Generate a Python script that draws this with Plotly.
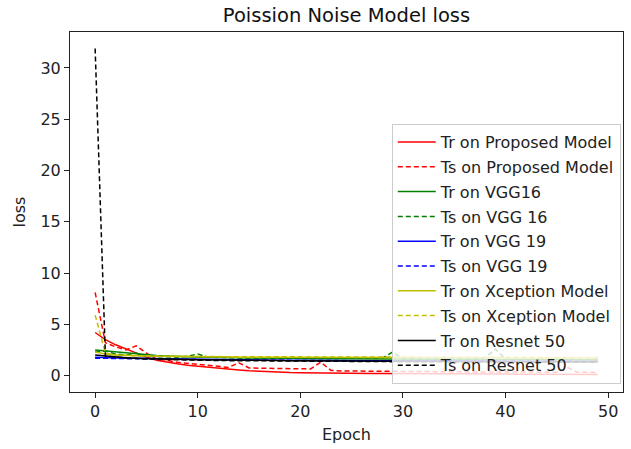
import plotly.graph_objects as go

epochs = list(range(50))

tr_proposed = [4.2, 3.5, 3.0, 2.6, 2.2, 1.8, 1.5, 1.3, 1.15, 1.0,
               0.9, 0.8, 0.7, 0.62, 0.55, 0.48, 0.42, 0.37, 0.33, 0.3,
               0.28, 0.26, 0.25, 0.24, 0.23, 0.22, 0.21, 0.2, 0.2, 0.19,
               0.19, 0.18, 0.18, 0.17, 0.17, 0.16, 0.16, 0.16, 0.15, 0.15,
               0.14, 0.14, 0.14, 0.13, 0.13, 0.13, 0.12, 0.12, 0.12, 0.11]
ts_proposed = [8.1, 3.2, 2.8, 2.5, 2.9, 2.2, 1.6, 1.5, 1.3, 1.2,
               1.1, 0.95, 0.85, 0.8, 1.25, 0.75, 0.72, 0.7, 0.7, 0.68,
               0.66, 0.65, 1.3, 0.5, 0.45, 0.44, 0.42, 0.42, 0.4, 0.4,
               0.4, 0.38, 0.38, 0.37, 0.37, 0.36, 0.36, 0.35, 0.35, 0.36,
               0.34, 0.34, 0.33, 0.33, 0.33, 0.32, 0.8, 0.32, 0.31, 0.31]
tr_vgg16 = [2.5, 2.4, 2.3, 2.2, 2.1, 2.0, 1.95, 1.9, 1.85, 1.82,
            1.8, 1.78, 1.76, 1.75, 1.74, 1.72, 1.71, 1.7, 1.69, 1.68,
            1.67, 1.66, 1.66, 1.65, 1.64, 1.64, 1.63, 1.62, 1.62, 1.61,
            1.61, 1.6, 1.6, 1.59, 1.59, 1.58, 1.58, 1.57, 1.57, 1.56,
            1.56, 1.56, 1.55, 1.55, 1.55, 1.54, 1.54, 1.54, 1.53, 1.53]
ts_vgg16 = [2.3, 2.4, 2.1, 2.0, 2.2, 1.9, 1.85, 1.8, 1.8, 1.9,
            2.1, 1.8, 1.75, 1.74, 1.72, 1.72, 1.7, 1.7, 1.69, 1.68,
            1.68, 1.67, 1.66, 1.66, 1.65, 1.65, 1.64, 1.64, 1.7, 2.3,
            1.65, 1.63, 1.63, 1.62, 1.62, 1.62, 1.61, 1.61, 1.7, 2.6,
            1.62, 1.6, 1.6, 1.6, 1.59, 1.59, 1.59, 1.58, 1.58, 1.58]
tr_vgg19 = [1.8, 1.75, 1.72, 1.7, 1.68, 1.66, 1.64, 1.62, 1.6, 1.58,
            1.57, 1.56, 1.55, 1.54, 1.53, 1.52, 1.51, 1.5, 1.5, 1.49,
            1.48, 1.48, 1.47, 1.47, 1.46, 1.46, 1.45, 1.45, 1.45, 1.44,
            1.44, 1.44, 1.43, 1.43, 1.43, 1.42, 1.42, 1.42, 1.41, 1.41,
            1.41, 1.4, 1.4, 1.4, 1.4, 1.39, 1.39, 1.39, 1.39, 1.38]
ts_vgg19 = [1.7, 1.7, 1.68, 1.66, 1.64, 1.62, 1.6, 1.59, 1.58, 1.56,
            1.55, 1.54, 1.53, 1.52, 1.51, 1.5, 1.5, 1.49, 1.48, 1.48,
            1.47, 1.47, 1.46, 1.46, 1.45, 1.45, 1.45, 1.44, 1.44, 1.44,
            1.43, 1.43, 1.43, 1.42, 1.42, 1.42, 1.42, 1.41, 1.41, 1.41,
            1.4, 1.4, 1.4, 1.4, 1.39, 1.39, 1.39, 1.39, 1.38, 1.38]
tr_xception = [2.3, 2.1, 2.0, 1.95, 1.92, 1.9, 1.88, 1.86, 1.85, 1.84,
               1.83, 1.82, 1.82, 1.81, 1.8, 1.8, 1.8, 1.79, 1.79, 1.78,
               1.78, 1.78, 1.77, 1.77, 1.77, 1.76, 1.76, 1.76, 1.75, 1.75,
               1.75, 1.75, 1.74, 1.74, 1.74, 1.74, 1.73, 1.73, 1.73, 1.73,
               1.72, 1.72, 1.72, 1.72, 1.71, 1.71, 1.71, 1.71, 1.7, 1.7]
ts_xception = [5.9, 2.2, 2.0, 1.95, 1.92, 1.9, 1.9, 1.88, 1.87, 1.86,
               1.86, 1.85, 1.85, 1.84, 1.84, 1.84, 1.83, 1.83, 1.83, 1.82,
               1.82, 1.82, 1.82, 1.81, 1.81, 1.81, 1.81, 1.8, 1.8, 1.8,
               1.8, 1.8, 1.79, 1.79, 1.79, 1.79, 1.79, 1.78, 1.78, 1.78,
               1.78, 1.78, 1.77, 1.77, 1.77, 1.77, 1.77, 1.76, 1.76, 1.76]
tr_resnet = [2.0, 1.9, 1.8, 1.75, 1.7, 1.66, 1.63, 1.6, 1.58, 1.56,
             1.55, 1.53, 1.52, 1.51, 1.5, 1.49, 1.48, 1.47, 1.46, 1.45,
             1.45, 1.44, 1.43, 1.43, 1.42, 1.42, 1.41, 1.41, 1.4, 1.4,
             1.4, 1.39, 1.39, 1.38, 1.38, 1.38, 1.37, 1.37, 1.37, 1.36,
             1.36, 1.36, 1.36, 1.35, 1.35, 1.35, 1.35, 1.34, 1.34, 1.34]
ts_resnet = [31.9, 1.9, 1.8, 1.72, 1.66, 1.62, 1.58, 1.55, 1.53, 1.51,
             1.5, 1.48, 1.47, 1.46, 1.45, 1.44, 1.43, 1.42, 1.41, 1.41,
             1.4, 1.39, 1.39, 1.38, 1.38, 1.37, 1.37, 1.36, 1.36, 1.36,
             1.35, 1.35, 1.34, 1.34, 1.34, 1.33, 1.33, 1.33, 1.33, 1.32,
             1.32, 1.32, 1.32, 1.31, 1.31, 1.31, 1.31, 1.3, 1.3, 1.3]

series = [
    ("Tr on Proposed Model", tr_proposed, "#ff0000", "solid"),
    ("Ts on Proposed Model", ts_proposed, "#ff0000", "dash"),
    ("Tr on VGG16", tr_vgg16, "#008000", "solid"),
    ("Ts on VGG 16", ts_vgg16, "#008000", "dash"),
    ("Tr on VGG 19", tr_vgg19, "#0000ff", "solid"),
    ("Ts on VGG 19", ts_vgg19, "#0000ff", "dash"),
    ("Tr on Xception Model", tr_xception, "#bfbf00", "solid"),
    ("Ts on Xception Model", ts_xception, "#bfbf00", "dash"),
    ("Tr on Resnet 50", tr_resnet, "#000000", "solid"),
    ("Ts on Resnet 50", ts_resnet, "#000000", "dash"),
]

FONT = "DejaVu Sans"
fig = go.Figure()
for i, (name, vals, color, dash) in enumerate(series):
    fig.add_trace(go.Scatter(
        x=epochs, y=vals, mode="lines", name=name, legendgroup=str(i),
        line=dict(color=color, width=1.5, dash="5px,3px" if dash == "dash" else "solid"),
    ))

axis_common = dict(
    showline=True, linecolor="#222", linewidth=1, mirror=True,
    ticks="outside", ticklen=5, tickwidth=1, tickcolor="#222",
    showgrid=False, zeroline=False,
    tickfont=dict(family=FONT, size=16, color="#222"),
)

fig.update_layout(
    width=631, height=449, autosize=False,
    margin=dict(l=70, r=8, t=32, b=57),
    paper_bgcolor="white", plot_bgcolor="white",
    font=dict(family=FONT, color="#222"),
    title=dict(text="Poission Noise Model loss", x=0.5, xref="paper", xanchor="center",
               y=1 - 15 / 449, yref="container", yanchor="middle",
               font=dict(family=FONT, size=19.5, color="#111")),
    xaxis=dict(range=[-2.45, 51.45], tickvals=[0, 10, 20, 30, 40, 50],
               title=dict(text="Epoch", font=dict(family=FONT, size=16, color="#222"), standoff=8),
               **axis_common),
    yaxis=dict(range=[-1.6, 33.5], tickvals=[0, 5, 10, 15, 20, 25, 30],
               title=dict(text="loss", font=dict(family=FONT, size=16, color="#222"), standoff=10),
               **axis_common),
    legend=dict(x=0.996, y=0.022, xanchor="right", yanchor="bottom",
                bgcolor="rgba(255,255,255,0.8)", bordercolor="#cccccc", borderwidth=1,
                font=dict(family=FONT, size=16, color="#222"), tracegroupgap=1,
                itemwidth=38),
    showlegend=True,
)

fig.write_html("out.html")
